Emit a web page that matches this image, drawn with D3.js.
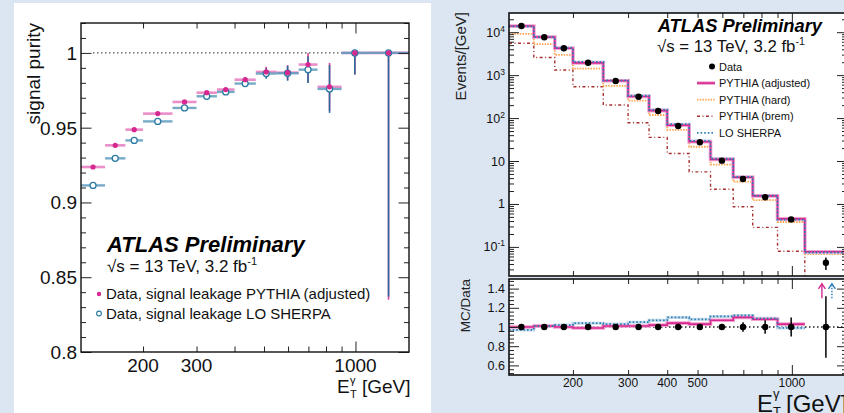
<!DOCTYPE html>
<html>
<head>
<meta charset="utf-8">
<script src="https://cdn.jsdelivr.net/npm/d3@7"></script>
<style>
body{margin:0;background:#dce6f2;}
svg{display:block;font-family:"Liberation Sans",Arial,sans-serif;}
</style>
</head>
<body>
<svg id="chart" width="844" height="413"></svg>
<script>

// bin edges in photon E_T [GeV]
var binEdges = [125,150,175,200,250,300,350,400,470,550,650,750,900,1100,1500];

// left plot: signal purity
var purityPythia    = [0.9237,0.9382,0.9487,0.9594,0.9672,0.9734,0.9755,0.9821,0.9873,0.9868,0.9922,0.9773,1.0,1.0];
var purityPythiaErr = [0.0005,0.0005,0.0006,0.0007,0.0008,0.001,0.0012,0.0016,0.0035,0.005,0.012,0.016,0.0145,0.165];
var puritySherpa    = [0.9114,0.9295,0.9415,0.9542,0.9632,0.9710,0.9739,0.9795,0.9862,0.9864,0.9888,0.9759,1.0,1.0];
var puritySherpaErr = [0.0005,0.0005,0.0006,0.0007,0.0008,0.001,0.0012,0.0016,0.0035,0.005,0.009,0.016,0.0145,0.163];

// right plot: events / GeV
var dataEvents  = [14000,7640,4240,1950,733,315,146,65.5,27.3,10.2,3.8,1.43,0.437,0.0427];
var dataRelErr  = [0.004,0.005,0.006,0.007,0.008,0.01,0.012,0.015,0.02,0.02,0.05,0.07,0.1,0.32];
var pythiaAdj   = [14000,7720,4240,1930,740,318,149,68,28.1,10.9,4.18,1.54,0.45,0.077];
var pythiaHard  = [9100,5250,2960,1420,560,255,118,53,21.5,8.2,3.3,1.23,0.38,0.068];
var pythiaBrem  = [5550,2570,1320,537,202,78,35.5,15,5.6,2.2,0.86,0.285,0.079,0.012];
var sherpaLO    = [13600,7720,4320,2030,755,331,156,72,29.5,11.3,4.26,1.56,0.433,0.074];

// ratio panel MC/Data
var ratioPythia = [1.0,1.01,1.0,0.99,1.01,1.01,1.02,1.04,1.03,1.07,1.10,1.08,1.03,1.80];
var ratioSherpa = [0.97,1.01,1.02,1.04,1.03,1.05,1.07,1.10,1.08,1.11,1.12,1.09,0.99,1.73];

var legendRight = ["Data","PYTHIA (adjusted)","PYTHIA (hard)","PYTHIA (brem)","LO SHERPA"];
var legendLeft  = ["Data, signal leakage PYTHIA (adjusted)","Data, signal leakage LO SHERPA"];

var PINK = "#d6288f", PINK_LIGHT = "#f2a3d0", PINK_BIN = "#e77cc0";
var BLUE = "#2b6a98", BLUE_BIN = "#5f9dbf", BLUE_DOT = "#2c7fb8";
var ORANGE = "#ffa54f", BREM = "#a83030";

var svg = d3.select("#chart");
svg.append("rect").attr("width",844).attr("height",413).attr("fill","#dce6f2");
svg.append("rect").attr("x",14).attr("y",3).attr("width",417).attr("height",410).attr("fill","#fff");

var nBins = binEdges.length - 1;
var centers = d3.range(nBins).map(function(i){ return Math.sqrt(binEdges[i]*binEdges[i+1]); });

function noDomain(a){ a.select(".domain").remove(); a.selectAll("line").attr("stroke","#222").attr("stroke-width",1); }

function ticksY(g, scale, vals, len, xLeft, xRight){
    g.append("g").attr("transform","translate("+xLeft+",0)")
        .call(d3.axisLeft(scale).tickValues(vals).tickSize(-len).tickFormat("")).call(noDomain);
    g.append("g").attr("transform","translate("+xRight+",0)")
        .call(d3.axisRight(scale).tickValues(vals).tickSize(-len).tickFormat("")).call(noDomain);
}
function ticksX(g, scale, vals, len, yTop, yBot){
    g.append("g").attr("transform","translate(0,"+yTop+")")
        .call(d3.axisTop(scale).tickValues(vals).tickSize(-len).tickFormat("")).call(noDomain);
    g.append("g").attr("transform","translate(0,"+yBot+")")
        .call(d3.axisBottom(scale).tickValues(vals).tickSize(-len).tickFormat("")).call(noDomain);
}

var xMinor = [200,300,400,500,600,700,800,900];
var xMajor = [1000];

// ================= LEFT: signal purity =================
var xL = d3.scaleLog().domain([125,1500]).range([81,409]);
var yL = d3.scaleLinear().domain([0.8,1.02]).range([352,23]);

var gL = svg.append("g");
gL.append("clipPath").attr("id","clipL").append("rect")
    .attr("x",xL(125)).attr("y",yL(1.02)).attr("width",xL(1500)-xL(125)).attr("height",yL(0.8)-yL(1.02));
var plotL = gL.append("g").attr("clip-path","url(#clipL)");

plotL.append("line")
    .attr("x1",xL(125)+12).attr("x2",xL(1500)).attr("y1",yL(1)).attr("y2",yL(1))
    .attr("stroke","#555").attr("stroke-width",1.3).attr("stroke-dasharray","1.5,2.5");

function purityBins(vals, color, width){
    plotL.selectAll(null).data(vals).enter().append("line")
        .attr("x1",function(d,i){return xL(binEdges[i]);})
        .attr("x2",function(d,i){return xL(binEdges[i+1]);})
        .attr("y1",function(d){return yL(d);}).attr("y2",function(d){return yL(d);})
        .attr("stroke",color).attr("stroke-width",width).attr("opacity",0.85);
}
function purityErr(vals, errs, color){
    plotL.selectAll(null).data(vals).enter().append("line")
        .attr("x1",function(d,i){return xL(centers[i]);})
        .attr("x2",function(d,i){return xL(centers[i]);})
        .attr("y1",function(d,i){return yL(Math.min(1,d+errs[i]));})
        .attr("y2",function(d,i){return yL(d-errs[i]);})
        .attr("stroke",color).attr("stroke-width",1.6);
}
purityBins(purityPythia, PINK_BIN, 2.6);
purityBins(puritySherpa, BLUE_BIN, 2.4);
purityErr(purityPythia, purityPythiaErr, "#e0409e");
purityErr(puritySherpa, puritySherpaErr, BLUE);

plotL.selectAll(null).data(puritySherpa).enter().append("circle")
    .attr("cx",function(d,i){return xL(centers[i]);}).attr("cy",function(d){return yL(d);})
    .attr("r",3).attr("fill","#fff").attr("stroke","#2a7aa3").attr("stroke-width",1.3);
plotL.selectAll(null).data(purityPythia).enter().append("circle")
    .attr("cx",function(d,i){return xL(centers[i]);}).attr("cy",function(d){return yL(d);})
    .attr("r",2.6).attr("fill",PINK);

ticksY(gL, yL, [0.8,0.85,0.9,0.95,1.0], 10.5, xL(125), xL(1500));
ticksY(gL, yL, d3.range(0.81,1.021,0.01).filter(function(v){return Math.round(v*100)%5!=0;}), 5, xL(125), xL(1500));
ticksX(gL, xL, xMinor, 5.5, yL(1.02), yL(0.8));
ticksX(gL, xL, xMajor, 10.5, yL(1.02), yL(0.8));

gL.append("rect").attr("x",xL(125)).attr("y",yL(1.02)).attr("width",xL(1500)-xL(125)).attr("height",yL(0.8)-yL(1.02))
    .attr("fill","none").attr("stroke","#111").attr("stroke-width",1.4);

gL.selectAll(null).data([0.8,0.85,0.9,0.95,1.0]).enter().append("text")
    .attr("x",xL(125)-4).attr("y",function(d){return yL(d)+7;})
    .attr("text-anchor","end").attr("font-size",19).attr("fill","#111")
    .text(function(d){return d==1?"1":String(d);});
gL.selectAll(null).data([200,300,1000]).enter().append("text")
    .attr("x",function(d){return xL(d);}).attr("y",372)
    .attr("text-anchor","middle").attr("font-size",19).attr("fill","#111")
    .text(function(d){return d;});

gL.append("text").attr("transform","translate(40,23) rotate(-90)")
    .attr("text-anchor","end").attr("font-size",19).attr("fill","#111").text("signal purity");

gL.append("text").attr("x",337).attr("y",393).attr("font-size",19).attr("fill","#111").text("E");
gL.append("text").attr("x",350).attr("y",384).attr("font-size",11).attr("fill","#111").text("γ");
gL.append("text").attr("x",350).attr("y",398).attr("font-size",11).attr("fill","#111").text("T");
gL.append("text").attr("x",362).attr("y",393).attr("font-size",19).attr("fill","#111").text("[GeV]");

gL.append("text").attr("x",107).attr("y",252).attr("font-size",22).attr("font-weight","bold")
    .attr("font-style","italic").attr("fill","#000").text("ATLAS Preliminary");
var sL = gL.append("text").attr("x",107).attr("y",272).attr("font-size",17).attr("fill","#111");
sL.append("tspan").text("√s = 13 TeV, 3.2 fb");
sL.append("tspan").attr("dy",-7).attr("font-size",11).text("-1");

gL.selectAll(null).data(legendLeft).enter().append("text")
    .attr("x",106).attr("y",function(d,i){return 299+i*19.5;})
    .attr("font-size",15).attr("fill","#111").text(function(d){return d;});
gL.append("circle").attr("cx",99).attr("cy",294).attr("r",2.2).attr("fill",PINK);
gL.append("circle").attr("cx",99).attr("cy",313.5).attr("r",2.4).attr("fill","#fff")
    .attr("stroke","#2a7aa3").attr("stroke-width",1.1);

// ================= RIGHT: spectrum + ratio =================
var xR = d3.scaleLog().domain([125,1500]).range([509,847]);
var yM = d3.scaleLog().domain([0.021,28000]).range([276,13]);
var yR = d3.scaleLinear().domain([0.5,1.5]).range([375,279]);

var gR = svg.append("g");
gR.append("rect").attr("x",xR(125)).attr("y",yM(28000)).attr("width",xR(1500)-xR(125)).attr("height",yM(0.021)-yM(28000)).attr("fill","#fff");
gR.append("rect").attr("x",xR(125)).attr("y",yR(1.5)).attr("width",xR(1500)-xR(125)).attr("height",yR(0.5)-yR(1.5)).attr("fill","#fff");

gR.append("clipPath").attr("id","clipM").append("rect")
    .attr("x",xR(125)).attr("y",yM(28000)).attr("width",xR(1500)-xR(125)).attr("height",yM(0.021)-yM(28000));
gR.append("clipPath").attr("id","clipR").append("rect")
    .attr("x",xR(125)).attr("y",yR(1.5)).attr("width",xR(1500)-xR(125)).attr("height",yR(0.5)-yR(1.5));

function stepPts(vals, n){
    var pts = [];
    for(var i=0;i<n;i++) pts.push([binEdges[i], vals[i]]);
    pts.push([binEdges[n], vals[n-1]]);
    return pts;
}
var lineM = d3.line().x(function(d){return xR(d[0]);}).y(function(d){return yM(d[1]);}).curve(d3.curveStepAfter);
var lineR = d3.line().x(function(d){return xR(d[0]);}).y(function(d){return yR(d[1]);}).curve(d3.curveStepAfter);

var plotM = gR.append("g").attr("clip-path","url(#clipM)");
plotM.append("path").attr("d",lineM(stepPts(pythiaBrem,nBins))).attr("fill","none")
    .attr("stroke",BREM).attr("stroke-width",1.4).attr("stroke-dasharray","3,2.5,1,2.5");
plotM.append("path").attr("d",lineM(stepPts(pythiaHard,nBins))).attr("fill","none")
    .attr("stroke",ORANGE).attr("stroke-width",1.8).attr("stroke-dasharray","1.5,1.2");
plotM.append("path").attr("d",lineM(stepPts(sherpaLO,nBins))).attr("fill","none")
    .attr("stroke","#c6dbea").attr("stroke-width",3);
plotM.append("path").attr("d",lineM(stepPts(pythiaAdj,nBins))).attr("fill","none")
    .attr("stroke",PINK_LIGHT).attr("stroke-width",3.6);
plotM.append("path").attr("d",lineM(stepPts(pythiaAdj,nBins))).attr("fill","none")
    .attr("stroke",PINK).attr("stroke-width",1.6);
plotM.append("path").attr("d",lineM(stepPts(sherpaLO,nBins))).attr("fill","none")
    .attr("stroke",BLUE_DOT).attr("stroke-width",1.8).attr("stroke-dasharray","1.6,2");

plotM.selectAll(null).data(dataEvents).enter().append("line")
    .attr("x1",function(d,i){return xR(centers[i]);}).attr("x2",function(d,i){return xR(centers[i]);})
    .attr("y1",function(d,i){return yM(d*(1+dataRelErr[i]));}).attr("y2",function(d,i){return yM(d*(1-dataRelErr[i]));})
    .attr("stroke","#000").attr("stroke-width",1.5);
plotM.selectAll(null).data(dataEvents).enter().append("circle")
    .attr("cx",function(d,i){return xR(centers[i]);}).attr("cy",function(d){return yM(d);})
    .attr("r",3.2).attr("fill","#000");

// ratio panel
var plotR = gR.append("g").attr("clip-path","url(#clipR)");
plotR.append("line").attr("x1",xR(125)).attr("x2",xR(1500)).attr("y1",yR(1)).attr("y2",yR(1))
    .attr("stroke","#222").attr("stroke-width",1.3).attr("stroke-dasharray","1.5,2.5");
var nIn = ratioPythia.filter(function(v){return v<=1.5;}).length;
plotR.append("path").attr("d",lineR(stepPts(ratioSherpa,nIn))).attr("fill","none")
    .attr("stroke","#c6dbea").attr("stroke-width",3);
plotR.append("path").attr("d",lineR(stepPts(ratioPythia,nIn))).attr("fill","none")
    .attr("stroke",PINK_LIGHT).attr("stroke-width",3.6);
plotR.append("path").attr("d",lineR(stepPts(ratioPythia,nIn))).attr("fill","none")
    .attr("stroke",PINK).attr("stroke-width",1.6);
plotR.append("path").attr("d",lineR(stepPts(ratioSherpa,nIn))).attr("fill","none")
    .attr("stroke",BLUE_DOT).attr("stroke-width",1.8).attr("stroke-dasharray","1.6,2");

plotR.selectAll(null).data(dataRelErr).enter().append("line")
    .attr("x1",function(d,i){return xR(centers[i]);}).attr("x2",function(d,i){return xR(centers[i]);})
    .attr("y1",function(d){return yR(1+d);}).attr("y2",function(d){return yR(1-d);})
    .attr("stroke","#000").attr("stroke-width",1.5);
plotR.selectAll(null).data(dataRelErr).enter().append("circle")
    .attr("cx",function(d,i){return xR(centers[i]);}).attr("cy",yR(1))
    .attr("r",3.2).attr("fill","#000");

// off-scale arrows
function arrow(xc, color, dash){
    var g = gR.append("g").attr("fill","none").attr("stroke",color).attr("stroke-width",1.4);
    g.append("line").attr("x1",xc).attr("x2",xc).attr("y1",yR(1.3)).attr("y2",yR(1.45)).attr("stroke-dasharray",dash);
    g.append("path").attr("d","M"+(xc-3.5)+","+(yR(1.45)+5)+"L"+xc+","+yR(1.45)+"L"+(xc+3.5)+","+(yR(1.45)+5));
}
ratioPythia.forEach(function(v,i){ if(v>1.5) arrow(xR(centers[i])-4, PINK, null); });
ratioSherpa.forEach(function(v,i){ if(v>1.5) arrow(xR(centers[i])+6, BLUE_DOT, "1.5,1.5"); });

// ticks, right plots
var yMajorM = [0.1,1,10,100,1000,10000];
var yMinorM = [];
[0.01,0.1,1,10,100,1000,10000].forEach(function(dec){
    for(var k=2;k<=9;k++){ var v=dec*k; if(v>0.021 && v<28000) yMinorM.push(v); }
});
ticksY(gR, yM, yMajorM, 10, xR(125), xR(1500));
ticksY(gR, yM, yMinorM, 5, xR(125), xR(1500));
ticksX(gR, xR, xMinor, 5, yM(28000), yM(0.021));
ticksX(gR, xR, xMajor, 10, yM(28000), yM(0.021));

var yMajorR = [0.6,0.8,1.0,1.2,1.4];
var yMinorR = d3.range(0.52,1.5,0.04).filter(function(v){return Math.abs(v*5-Math.round(v*5))>0.01;});
ticksY(gR, yR, yMajorR, 10, xR(125), xR(1500));
ticksY(gR, yR, yMinorR, 5, xR(125), xR(1500));
ticksX(gR, xR, xMinor, 5, yR(1.5), yR(0.5));
ticksX(gR, xR, xMajor, 10, yR(1.5), yR(0.5));

gR.append("rect").attr("x",xR(125)).attr("y",yM(28000)).attr("width",xR(1500)-xR(125)).attr("height",yM(0.021)-yM(28000))
    .attr("fill","none").attr("stroke","#111").attr("stroke-width",1.6);
gR.append("rect").attr("x",xR(125)).attr("y",yR(1.5)).attr("width",xR(1500)-xR(125)).attr("height",yR(0.5)-yR(1.5))
    .attr("fill","none").attr("stroke","#111").attr("stroke-width",1.6);

// tick labels
var expLabels = {0.1:["10","-1"],1:["1",""],10:["10",""],100:["10","2"],1000:["10","3"],10000:["10","4"]};
yMajorM.forEach(function(v){
    var t = gR.append("text").attr("x",xR(125)-4).attr("y",yM(v)+4.5)
        .attr("text-anchor","end").attr("font-size",12.5).attr("fill","#111");
    t.append("tspan").text(expLabels[v][0]);
    if(expLabels[v][1]) t.append("tspan").attr("dy",-5).attr("font-size",8.5).text(expLabels[v][1]);
});
gR.selectAll(null).data(yMajorR).enter().append("text")
    .attr("x",xR(125)-4).attr("y",function(d){return yR(d)+4.5;})
    .attr("text-anchor","end").attr("font-size",12.5).attr("fill","#111")
    .text(function(d){return d==1?"1":d.toFixed(1);});
gR.selectAll(null).data([200,300,400,500,1000]).enter().append("text")
    .attr("x",function(d){return xR(d);}).attr("y",387)
    .attr("text-anchor","middle").attr("font-size",12).attr("fill","#111")
    .text(function(d){return d;});

gR.append("text").attr("transform","translate(466,12) rotate(-90)")
    .attr("text-anchor","end").attr("font-size",15).attr("fill","#222").text("Events/[GeV]");
gR.append("text").attr("transform","translate(470,279) rotate(-90)")
    .attr("text-anchor","end").attr("font-size",13.5).attr("fill","#222").text("MC/Data");

// axis title runs past the bottom-right edge, as in the reference
gR.append("text").attr("x",757).attr("y",412).attr("font-size",24).attr("fill","#111").text("E");
gR.append("text").attr("x",773).attr("y",398).attr("font-size",13).attr("fill","#111").text("γ");
gR.append("text").attr("x",773).attr("y",416).attr("font-size",13).attr("fill","#111").text("T");
gR.append("text").attr("x",786).attr("y",412).attr("font-size",24).attr("fill","#111").text("[GeV]");

// right legend
gR.append("text").attr("x",822).attr("y",32).attr("text-anchor","end").attr("font-size",18.3)
    .attr("font-weight","bold").attr("font-style","italic").attr("fill","#000").text("ATLAS Preliminary");
var sR = gR.append("text").attr("x",657).attr("y",52).attr("font-size",16.8).attr("fill","#111");
sR.append("tspan").text("√s = 13 TeV, 3.2 fb");
sR.append("tspan").attr("dy",-7).attr("font-size",10.5).text("-1");

var legY = function(i){ return 66.5 + i*16.6; };
gR.selectAll(null).data(legendRight).enter().append("text")
    .attr("x",719).attr("y",function(d,i){return legY(i)+4;})
    .attr("font-size",11).attr("fill","#111").text(function(d){return d;});
gR.append("circle").attr("cx",712).attr("cy",legY(0)).attr("r",3).attr("fill","#000");
gR.append("line").attr("x1",697).attr("x2",715).attr("y1",legY(1)).attr("y2",legY(1))
    .attr("stroke",PINK_LIGHT).attr("stroke-width",3.6);
gR.append("line").attr("x1",697).attr("x2",715).attr("y1",legY(1)).attr("y2",legY(1))
    .attr("stroke",PINK).attr("stroke-width",1.6);
gR.append("line").attr("x1",697).attr("x2",715).attr("y1",legY(2)).attr("y2",legY(2))
    .attr("stroke",ORANGE).attr("stroke-width",1.8).attr("stroke-dasharray","1.5,1.2");
gR.append("line").attr("x1",697).attr("x2",715).attr("y1",legY(3)).attr("y2",legY(3))
    .attr("stroke",BREM).attr("stroke-width",1.4).attr("stroke-dasharray","3,2.5,1,2.5");
gR.append("line").attr("x1",697).attr("x2",715).attr("y1",legY(4)).attr("y2",legY(4))
    .attr("stroke",BLUE_DOT).attr("stroke-width",1.8).attr("stroke-dasharray","1.6,2");

</script>
</body>
</html>
